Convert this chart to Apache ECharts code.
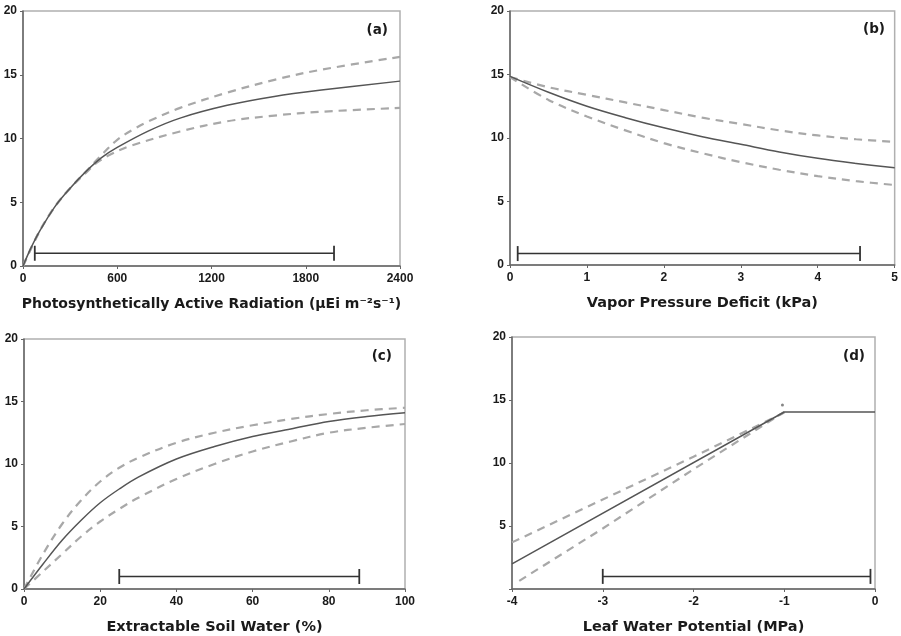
<!DOCTYPE html>
<html>
<head>
<meta charset="utf-8">
<script src="https://cdn.jsdelivr.net/npm/echarts@6/dist/echarts.min.js"></script>
<style>html,body{margin:0;padding:0;background:#fff}#c{width:901px;height:636px}</style>
</head>
<body>
<div id="c"></div>
<script>
// Panel (a): PAR
const aX      = [0, 50, 100, 200, 300, 400, 500, 600, 800, 1000, 1300, 1600, 1900, 2400];
const aSolid  = [0, 1.4, 2.6, 4.6, 6.1, 7.4, 8.5, 9.3, 10.6, 11.6, 12.6, 13.3, 13.8, 14.5];
const aUpX    = [0, 100, 200, 300, 400, 500, 600, 700, 800, 1000, 1300, 1600, 1900, 2400];
const aUpper  = [0, 2.6, 4.6, 6.1, 7.4, 8.7, 9.9, 10.7, 11.35, 12.4, 13.6, 14.6, 15.4, 16.4];
const aLoX    = [0, 100, 200, 300, 400, 470, 550, 680, 1000, 1300, 1600, 1900, 2400];
const aLower  = [0, 2.6, 4.6, 6.1, 7.3, 8.1, 8.7, 9.4, 10.55, 11.35, 11.8, 12.1, 12.4];
const aRange  = [75, 1980];
const aRangeY = 1;

// Panel (b): VPD
const bX      = [0, 0.5, 1, 1.5, 2, 2.5, 3, 3.5, 4, 4.5, 5];
const bSolid  = [14.85, 13.6, 12.5, 11.6, 10.8, 10.1, 9.5, 8.9, 8.4, 8.0, 7.65];
const bUpper  = [14.8, 14.0, 13.4, 12.8, 12.2, 11.6, 11.1, 10.6, 10.2, 9.9, 9.7];
const bLower  = [14.8, 13.0, 11.7, 10.6, 9.6, 8.8, 8.1, 7.5, 7.0, 6.6, 6.3];
const bRange  = [0.1, 4.55];
const bRangeY = 0.9;

// Panel (c): Extractable soil water
const cX      = [0, 5, 10, 15, 20, 25, 30, 40, 50, 60, 70, 80, 90, 100];
const cSolid  = [0, 2.0, 3.9, 5.5, 6.9, 8.0, 8.95, 10.4, 11.4, 12.2, 12.8, 13.4, 13.8, 14.1];
const cUpper  = [0, 2.8, 5.2, 7.1, 8.6, 9.7, 10.5, 11.7, 12.5, 13.1, 13.6, 14.0, 14.3, 14.5];
const cLower  = [0, 1.4, 2.8, 4.2, 5.4, 6.4, 7.3, 8.8, 10.0, 11.0, 11.8, 12.5, 12.9, 13.2];
const cRange  = [25, 88];
const cRangeY = 1;

// Panel (d): Leaf water potential
const dSolidX = [-4, -1, 0];
const dSolid  = [2.0, 14.05, 14.05];
const dUpX    = [-4, -3, -2, -1];
const dUpper  = [3.7, 7.1, 10.5, 14.0];
const dLoX    = [-3.92, -3, -2, -1];
const dLower  = [0.65, 4.8, 9.5, 14.05];
const dDot    = [[-1.02, 14.6]];
const dRange  = [-3, -0.05];
const dRangeY = 1;

// Axes
const xTitles = [
  'Photosynthetically Active Radiation (\u03bcEi m\u207b\u00b2s\u207b\u00b9)',
  'Vapor Pressure Deficit (kPa)',
  'Extractable Soil Water (%)',
  'Leaf Water Potential (MPa)'
];
const xMin = [0, 0, 0, -4];
const xMax = [2400, 5, 100, 0];
const xInt = [600, 1, 20, 1];
const yMin = 0, yMax = 20, yInt = 5;
const panelLabels = ['(a)', '(b)', '(c)', '(d)'];

const zip = (xs, ys) => xs.map((x, i) => [x, ys[i]]);
const FONT = '"Liberation Sans", Arial, sans-serif';
const TFONT = '"DejaVu Sans", "Liberation Sans", sans-serif';

const grids = [
  {left: 23, top: 11, width: 377, height: 255},
  {left: 510, top: 11, width: 386, height: 254},
  {left: 24, top: 339, width: 381, height: 254},
  {left: 512, top: 337, width: 363, height: 255}
].map(g => Object.assign(g, {show: true, borderColor: '#b0b0b0', borderWidth: 1.5, backgroundColor: 'transparent'}));

const xAxes = [0,1,2,3].map(i => ({
  type: 'value', gridIndex: i, min: xMin[i], max: xMax[i], interval: xInt[i],
  name: xTitles[i], nameLocation: 'middle', nameGap: 31,
  nameTextStyle: {fontFamily: TFONT, fontWeight: 'bold', fontSize: i === 0 ? 14 : 14.5, color: '#1a1a1a'},
  axisLine: {show: true, onZero: false, lineStyle: {color: '#666', width: 1.5}},
  axisTick: {show: true, length: 3, lineStyle: {color: '#666'}},
  axisLabel: {fontFamily: FONT, fontWeight: 'bold', fontSize: 12, color: '#1a1a1a', margin: 7,
    formatter: v => String(v)},
  splitLine: {show: false}
}));

const yAxes = [0,1,2,3].map(i => ({
  type: 'value', gridIndex: i, min: yMin, max: yMax, interval: yInt,
  axisLine: {show: true, onZero: false, lineStyle: {color: '#666', width: 1.5}},
  axisTick: {show: true, length: 3, lineStyle: {color: '#666'}},
  axisLabel: {fontFamily: FONT, fontWeight: 'bold', fontSize: 12, color: '#1a1a1a', margin: 6,
    formatter: v => (i === 3 && v === 0) ? '' : String(v)},
  splitLine: {show: false}
}));

function solid(i, data, smooth) {
  return {type: 'line', xAxisIndex: i, yAxisIndex: i, data, smooth: smooth ? 0.35 : false,
    showSymbol: false, lineStyle: {color: '#555', width: 1.5}, z: 3, silent: true};
}
function dashed(i, data, smooth) {
  return {type: 'line', xAxisIndex: i, yAxisIndex: i, data, smooth: smooth ? 0.35 : false,
    showSymbol: false, lineStyle: {color: '#a8a8a8', width: 2.2, type: [8, 6]}, z: 2, silent: true};
}
function rangeBar(i, r, y) {
  return {type: 'line', xAxisIndex: i, yAxisIndex: i, data: [[r[0], y], [r[1], y]],
    symbol: 'rect', symbolSize: [1.8, 15], showSymbol: true,
    itemStyle: {color: '#333'}, lineStyle: {color: '#333', width: 1.5}, z: 4, silent: true};
}

const series = [
  solid(0, zip(aX, aSolid), true), dashed(0, zip(aUpX, aUpper), true), dashed(0, zip(aLoX, aLower), true), rangeBar(0, aRange, aRangeY),
  solid(1, zip(bX, bSolid), true), dashed(1, zip(bX, bUpper), true), dashed(1, zip(bX, bLower), true), rangeBar(1, bRange, bRangeY),
  solid(2, zip(cX, cSolid), true), dashed(2, zip(cX, cUpper), true), dashed(2, zip(cX, cLower), true), rangeBar(2, cRange, cRangeY),
  solid(3, zip(dSolidX, dSolid), false), dashed(3, zip(dUpX, dUpper), false), dashed(3, zip(dLoX, dLower), false), rangeBar(3, dRange, dRangeY),
  {type: 'scatter', xAxisIndex: 3, yAxisIndex: 3, data: dDot, symbolSize: 3, itemStyle: {color: '#666'}, silent: true}
];

const titlePos = [
  {right: 513, top: 23}, {right: 16, top: 22}, {right: 509, top: 349}, {right: 36, top: 349}
];
const titles = panelLabels.map((t, i) => Object.assign({
  text: t, textStyle: {fontFamily: TFONT, fontWeight: 'bold', fontSize: 13.5, color: '#1a1a1a'}, padding: 0
}, titlePos[i]));

const chart = echarts.init(document.getElementById('c'), null, {renderer: 'canvas'});
chart.setOption({
  animation: false,
  backgroundColor: '#fff',
  title: titles,
  grid: grids,
  xAxis: xAxes,
  yAxis: yAxes,
  series
});
</script>
</body>
</html>
